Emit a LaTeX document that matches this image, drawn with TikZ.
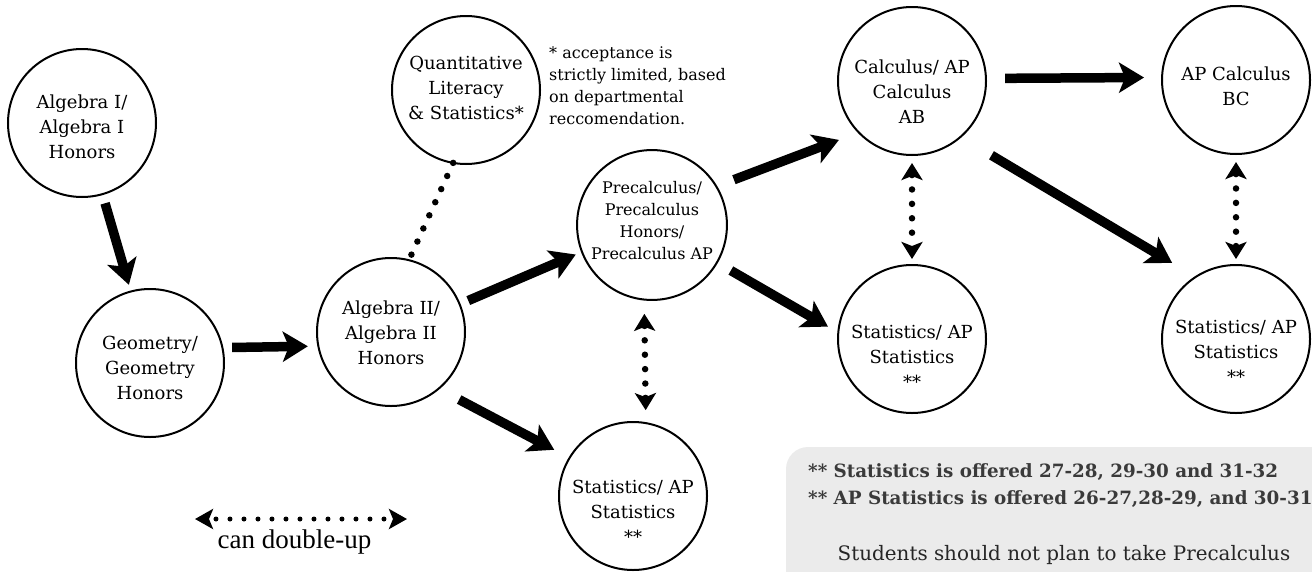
\documentclass[tikz,border=0pt]{standalone}
\usepackage{fontspec}
\setmainfont{DejaVu Serif}
\newfontfamily\legendfont{Liberation Serif}
\usetikzlibrary{arrows.meta}
\definecolor{boxgray}{HTML}{EBEBEB}
\definecolor{boxtext}{HTML}{3A3A3A}
\newcommand\ctxt[2]{\raisebox{0pt}[\dimexpr\height+#1\relax][\dimexpr\depth-#1\relax]{\begin{tabular}{@{}c@{}}#2\end{tabular}}}
\begin{document}
\begin{tikzpicture}[x=1pt,y=-1pt,
  course/.style={circle,draw,line width=2pt,minimum size=148pt,inner sep=0pt,outer sep=0pt,font=\fontsize{18}{25}\selectfont},
  bigarrow/.style={line width=9.5pt,-{Stealth[length=25pt,width=30pt,inset=6pt]}},
  dotline/.style={line width=6.5pt,line cap=round,dash pattern=on 0pt off 14.4pt},
  dblarrow/.style={dotline,{Stealth[length=17pt,width=21pt,inset=4pt]}-{Stealth[length=17pt,width=21pt,inset=4pt]}},
  boxline/.style={anchor=base west,inner sep=0pt,text=boxtext,font=\bfseries\fontsize{18.3}{22}\selectfont}
]
\useasboundingbox (0,0) rectangle (1312,571);
% note box
\fill[boxgray,rounded corners=22pt] (786,447) rectangle (1360,620);
\node[boxline] (n1) at (808,477) {** Statistics is offered 27-28, 29-30 and 31-32};
\node[boxline] (n2) at (808,504) {** AP Statistics is offered 26-27,28-29, and 30-31};
\node[anchor=base,inner sep=0pt,text=black!85,font=\fontsize{19.9}{24}\selectfont] (n3) at (1064,560) {Students should not plan to take Precalculus};

% courses
\node[course] (algI) at (82,123) {\ctxt{5pt}{Algebra I/\\Algebra I\\Honors}};
\node[course] (geom) at (150,363) {\ctxt{6pt}{Geometry/\\Geometry\\Honors}};
\node[course] (alg2) at (391,332) {\ctxt{2pt}{Algebra II/\\Algebra II\\Honors}};
\node[course] (quant) at (466,90) {\ctxt{-1pt}{Quantitative\\Literacy\\\& Statistics*}};
\node[course,font=\fontsize{16}{22}\selectfont] (pre) at (652,225) {\ctxt{-3pt}{Precalculus/\\Precalculus\\Honors/\\Precalculus AP}};
\node[course] (statB) at (633,496) {\ctxt{17pt}{Statistics/ AP\\Statistics\\{}**}};
\node[course] (calc) at (912,81) {\ctxt{12pt}{Calculus/ AP\\Calculus\\AB}};
\node[course] (bc) at (1236,80) {\ctxt{8pt}{AP Calculus\\BC}};
\node[course] (statM) at (912,339) {\ctxt{19pt}{Statistics/ AP\\Statistics\\{}**}};
\node[course] (statR) at (1236,339) {\ctxt{14pt}{Statistics/ AP\\Statistics\\{}**}};

% note
\node[anchor=north west,inner sep=0pt,align=left,font=\fontsize{16}{22}\selectfont] (note) at (549,46)
  {* acceptance is\\strictly limited, based\\on departmental\\reccomendation.};

% thick arrows
\draw[bigarrow,shorten <=9.5pt,shorten >=7pt] (algI.286.9) -- (geom.105.8);
\draw[bigarrow,shorten <=9.75pt,shorten >=10.5pt] (geom.12.5) -- (alg2.191.7);
\draw[bigarrow,shorten <=9.4pt,shorten >=6.8pt] (alg2.22.6) -- (pre.201.7);
\draw[bigarrow,shorten <=23.3pt,shorten >=17.4pt] (alg2.310.9) -- (statB.149.4);
\draw[bigarrow,shorten <=18.9pt,shorten >=21.2pt] (pre.31.2) -- (calc.224.1);
\draw[bigarrow,shorten <=16.1pt,shorten >=11.9pt] (pre.330.1) -- (statM.175.3);
\draw[bigarrow,shorten <=19.1pt,shorten >=18pt] (calc.2.3) -- (bc.178.45);
\draw[bigarrow,shorten <=36pt,shorten >=27.4pt] (calc.311.5) -- (statR.123.2);

% dotted links
\draw[dotline,shorten >=5.5pt] (quant.260) -- (alg2.76.1);
\draw[dblarrow,shorten <=14.3pt,shorten >=13pt] (pre.264.6) -- (statB.80.7);
\draw[dblarrow,shorten <=8pt,shorten >=6pt] (calc.270) -- (statM.90);
\draw[dblarrow,shorten <=8pt,shorten >=6pt] (bc.270) -- (statR.90);

% legend
\coordinate (legL) at (195,519);
\coordinate (legR) at (407,519);
\draw[line width=5pt,line cap=round,dash pattern=on 0pt off 14pt,dash phase=6pt,
  {Stealth[length=18pt,width=20pt,inset=4pt]}-{Stealth[length=18pt,width=20pt,inset=4pt]}] (legL) -- (legR);
\node[anchor=base,inner sep=0pt,font=\legendfont\fontsize{27}{30}\selectfont] (leg) at (294.5,548) {can double-up};
\end{tikzpicture}
\end{document}
